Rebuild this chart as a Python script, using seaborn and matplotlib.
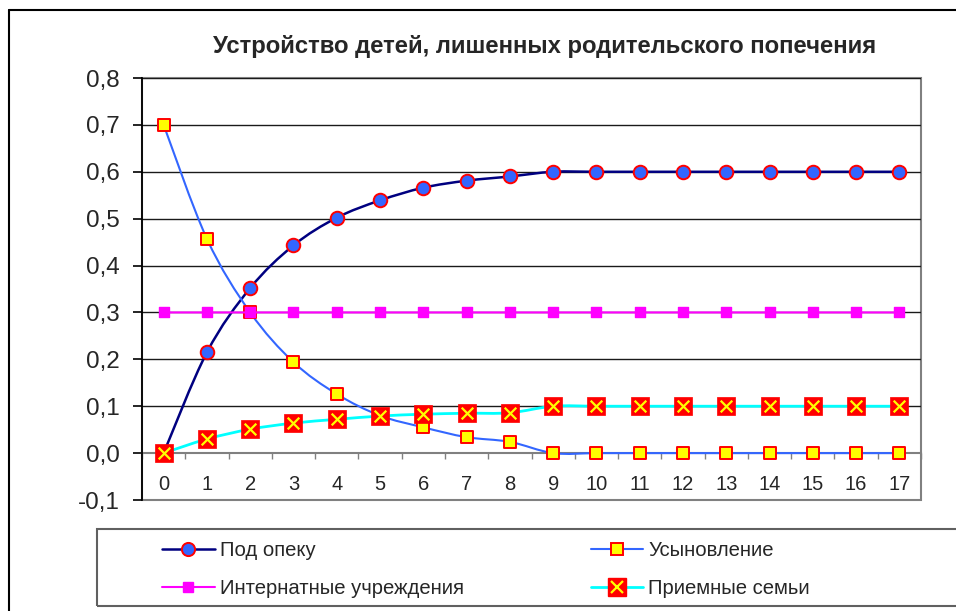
import numpy as np
import pandas as pd
import seaborn as sns
import matplotlib
matplotlib.use("Agg")
import matplotlib.pyplot as plt
from matplotlib.path import Path
from matplotlib.patches import PathPatch, Rectangle
from matplotlib.lines import Line2D
from matplotlib.legend_handler import HandlerTuple
from matplotlib.ticker import FuncFormatter, MultipleLocator

# ---- data ----
years = list(range(18))
pod_opeku = [0.0, 0.215, 0.352, 0.443, 0.502, 0.539, 0.566, 0.581, 0.590,
             0.6, 0.6, 0.6, 0.6, 0.6, 0.6, 0.6, 0.6, 0.6]
usynovlenie = [0.70, 0.457, 0.30, 0.194, 0.126, 0.080, 0.055, 0.034, 0.024,
               0.0, 0.0, 0.0, 0.0, 0.0, 0.0, 0.0, 0.0, 0.0]
internat = [0.3, 0.3, 0.3, 0.3, 0.3, 0.3, 0.3, 0.3, 0.3,
            0.3, 0.3, 0.3, 0.3, 0.3, 0.3, 0.3, 0.3, 0.3]
priemnye = [0.0, 0.030, 0.051, 0.064, 0.072, 0.079, 0.083, 0.085, 0.086,
            0.1, 0.1, 0.1, 0.1, 0.1, 0.1, 0.1, 0.1, 0.1]
labels = ["Под опеку", "Усыновление", "Интернатные учреждения", "Приемные семьи"]
title = "Устройство детей, лишенных родительского попечения"
yticks = [-0.1, 0.0, 0.1, 0.2, 0.3, 0.4, 0.5, 0.6, 0.7, 0.8]

df = pd.DataFrame({"x": years, labels[0]: pod_opeku, labels[1]: usynovlenie,
                   labels[2]: internat, labels[3]: priemnye})

sns.set_theme(style="white")
plt.rcParams["font.family"] = ["Liberation Sans", "DejaVu Sans"]

fig = plt.figure(figsize=(9.56, 6.11), dpi=100)
W, H = 956, 611
ax = fig.add_axes([142 / W, 1 - 500 / H, (921 - 142) / W, (500 - 78) / H])


def smooth_path(xs, ys):
    """Excel-like smoothed line: Catmull-Rom converted to cubic Bezier."""
    pts = np.column_stack([xs, ys]).astype(float)
    n = len(pts)
    verts = [pts[0]]
    codes = [Path.MOVETO]
    for i in range(n - 1):
        p0 = pts[i - 1] if i > 0 else pts[i]
        p1 = pts[i]
        p2 = pts[i + 1]
        p3 = pts[i + 2] if i + 2 < n else pts[i + 1]
        c1 = p1 + (p2 - p0) / 6.0
        c2 = p2 - (p3 - p1) / 6.0
        verts += [c1, c2, p2]
        codes += [Path.CURVE4] * 3
    return Path(verts, codes)


series_style = [
    (labels[0], "#000080", 1.8),
    (labels[1], "#3366FF", 1.5),
    (labels[2], "#FF00FF", 1.5),
    (labels[3], "#00FFFF", 2.0),
]
for i, (name, col, lw) in enumerate(series_style):
    patch = PathPatch(smooth_path(df["x"], df[name]), facecolor="none",
                      edgecolor=col, lw=lw, zorder=3 + 2 * i)
    ax.add_patch(patch)

# markers
sns.scatterplot(data=df, x="x", y=labels[0], marker="o", s=95, color="#3366FF",
                edgecolor="#FF0000", linewidth=1.4, ax=ax, zorder=4, legend=False)
sns.scatterplot(data=df, x="x", y=labels[1], marker="s", s=78, color="#FFFF00",
                edgecolor="#FF0000", linewidth=1.4, ax=ax, zorder=6, legend=False)
sns.scatterplot(data=df, x="x", y=labels[2], marker="s", s=55, color="#FF00FF",
                edgecolor="#FF00FF", linewidth=1.0, ax=ax, zorder=8, legend=False)
sns.scatterplot(data=df, x="x", y=labels[3], marker="s", s=165, color="#FF0000",
                edgecolor="#FF0000", linewidth=0.5, ax=ax, zorder=10, legend=False)
sns.scatterplot(data=df, x="x", y=labels[3], marker="x", s=70, color="#FFFF00",
                linewidth=1.6, ax=ax, zorder=11, legend=False)

# axes styling
ax.set_xlim(-0.5, 17.5)
ax.set_ylim(-0.1, 0.8)
ax.set_xlabel("")
ax.set_ylabel("")
ax.set_yticks(yticks)
ax.yaxis.set_major_formatter(FuncFormatter(lambda v, p: f"{v:.1f}".replace(".", ",").replace("-0,0", "0,0")))
ax.tick_params(axis="y", direction="out", length=6.5, width=1.2, color="black",
               pad=9.5, labelsize=17.5, left=True)
ax.grid(False)
for v in yticks[2:]:
    ax.axhline(v, color="#1a1a1a", lw=1.0, zorder=1)

for s in ["top", "right", "bottom", "left"]:
    ax.spines[s].set_visible(False)
ax.spines["left"].set_visible(True)
ax.spines["left"].set_color("black")
ax.spines["left"].set_linewidth(1.3)
ax.spines["left"].set_zorder(12)
ax.spines["bottom"].set_visible(True)
ax.spines["bottom"].set_position(("data", 0))
ax.spines["bottom"].set_color("#808080")
ax.spines["bottom"].set_linewidth(1.5)
ax.spines["bottom"].set_zorder(2)

ax.set_xticks(years)
ax.set_xticklabels([str(v) for v in years])
ax.xaxis.set_minor_locator(MultipleLocator(1, offset=0.5))
ax.tick_params(axis="x", which="major", length=0, pad=16, labelsize=14.5, bottom=True)
ax.tick_params(axis="x", which="minor", direction="out", length=4.5, width=1.0,
               color="#808080", bottom=True)
ax.add_patch(Rectangle((0, 0), 1, 1, transform=ax.transAxes, fill=False,
                       edgecolor="#808080", lw=1.5, zorder=0.5, clip_on=False))

# title
fig.text(545 / W, 1 - 46.5 / H, title, ha="center", va="center",
         fontsize=17.2, fontweight="bold")

# outer chart border
fig.add_artist(Line2D([9 / W, 9 / W], [0, 1 - 10 / H], transform=fig.transFigure,
                      color="black", lw=1.5))
fig.add_artist(Line2D([9 / W, 1], [1 - 10 / H, 1 - 10 / H], transform=fig.transFigure,
                      color="black", lw=1.5))

# legend frame
fig.add_artist(Rectangle((97 / W, 1 - 606 / H), (960 - 97) / W, (606 - 529) / H,
                         transform=fig.transFigure, fill=False, edgecolor="#606060",
                         lw=1.5))

h0 = Line2D([], [], color="#000080", lw=1.8, marker="o", markersize=9.5,
            markerfacecolor="#3366FF", markeredgecolor="#FF0000", markeredgewidth=1.4)
h1 = Line2D([], [], color="#3366FF", lw=1.5, marker="s", markersize=8.8,
            markerfacecolor="#FFFF00", markeredgecolor="#FF0000", markeredgewidth=1.4)
h2 = Line2D([], [], color="#FF00FF", lw=1.5, marker="s", markersize=7.4,
            markerfacecolor="#FF00FF", markeredgecolor="#FF00FF")
h3a = Line2D([], [], color="#00FFFF", lw=2.0, marker="s", markersize=12.8,
             markerfacecolor="#FF0000", markeredgecolor="#FF0000")
h3b = Line2D([], [], color="none", lw=0, marker="x", markersize=8.4,
             markeredgecolor="#FFFF00", markeredgewidth=1.6)
fig.legend([h0, h2, h1, (h3a, h3b)], [labels[0], labels[2], labels[1], labels[3]],
           handler_map={tuple: HandlerTuple(ndivide=1)},
           ncol=2, loc="upper left", bbox_to_anchor=(162 / W, 1 - 541 / H),
           frameon=False, fontsize=14.6, handlelength=2.6, handletextpad=0.25,
           columnspacing=6.25, labelspacing=0.95, borderpad=0, borderaxespad=0,
           numpoints=1)

fig.savefig("out.png", dpi=100)
